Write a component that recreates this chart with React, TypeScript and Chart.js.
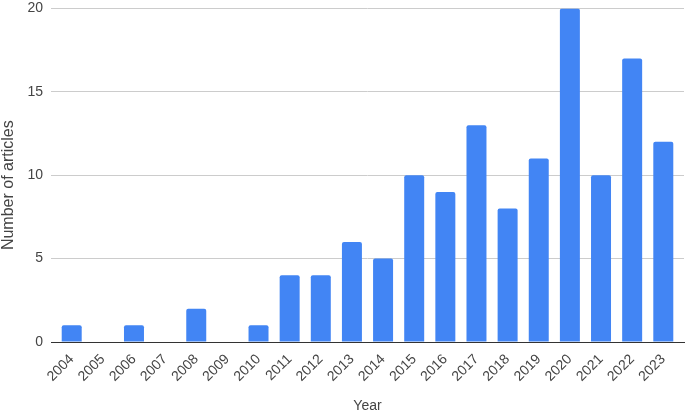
import React, { useEffect, useRef } from "react";
import { Chart, registerables } from "chart.js";

Chart.register(...registerables);

const years = ["2004","2005","2006","2007","2008","2009","2010","2011","2012","2013","2014","2015","2016","2017","2018","2019","2020","2021","2022","2023"];
const articles = [1,0,1,0,2,0,1,4,4,6,5,10,9,13,8,11,20,10,17,12];
const yTicks = [0,5,10,15,20];

const FONT = "'Liberation Sans', Arial, sans-serif";
const Y_TITLE = "Number of articles";

const yTitlePlugin = {
  id: "yTitle",
  afterDraw(chart: any) {
    const { ctx, chartArea } = chart;
    ctx.save();
    ctx.fillStyle = "#444";
    ctx.font = `16px ${FONT}`;
    ctx.textAlign = "center";
    ctx.textBaseline = "middle";
    ctx.translate(9, (chartArea.top + chartArea.bottom) / 2 + 10);
    ctx.rotate(-Math.PI / 2);
    ctx.fillText(Y_TITLE, 0, 0);
    ctx.restore();
  },
};

export default function App() {
  const ref = useRef<HTMLCanvasElement>(null);
  useEffect(() => {
    document.body.style.margin = "0";
    const ctx = ref.current!;
    const chart = new Chart(ctx, {
      type: "bar",
      data: {
        datasets: [{
          data: years.map((_, i) => ({ x: i, y: articles[i] })),
          backgroundColor: "#4285F4",
          borderRadius: 2,
          borderSkipped: "bottom",
          barPercentage: 0.642,
          categoryPercentage: 1,
        }],
      },
      plugins: [yTitlePlugin],
      options: {
        responsive: false,
        animation: false,
        layout: { padding: { left: 0, right: 1, top: 0, bottom: 0 } },
        plugins: { legend: { display: false }, tooltip: { enabled: false } },
        scales: {
          x: {
            type: "linear",
            offset: false,
            min: -0.665,
            max: years.length - 1 + 0.665,
            afterBuildTicks: (axis: any) => { axis.ticks = years.map((_, i) => ({ value: i })); },
            grid: { display: false, tickLength: 4, offset: false },
            border: { color: "#333333", width: 1 },
            ticks: {
              color: "#444", font: { family: FONT, size: 14 }, maxRotation: 45, minRotation: 45, autoSkip: false, padding: 5,
              callback: (v: any) => years[v as number] ?? "",
            },
            title: { display: true, text: "Year", color: "#444", font: { family: FONT, size: 14, lineHeight: 1.0 }, padding: { top: 0, bottom: 0 } },
            afterFit: (axis: any) => { axis.height = 71; },
          },
          y: {
            min: 0, max: 20,
            afterBuildTicks: (axis: any) => { axis.ticks = yTicks.map((v) => ({ value: v })); },
            grid: { color: "#cccccc", drawTicks: true, tickLength: 8, tickColor: "rgba(0,0,0,0)" },
            border: { display: false },
            ticks: { color: "#444", font: { family: FONT, size: 14 }, padding: 0 },
            title: { display: false },
            afterFit: (axis: any) => { axis.width = 51; },
          },
        },
      },
    });
    return () => chart.destroy();
  }, []);
  return <canvas ref={ref} width={685} height={413} style={{ display: "block" }} />;
}
